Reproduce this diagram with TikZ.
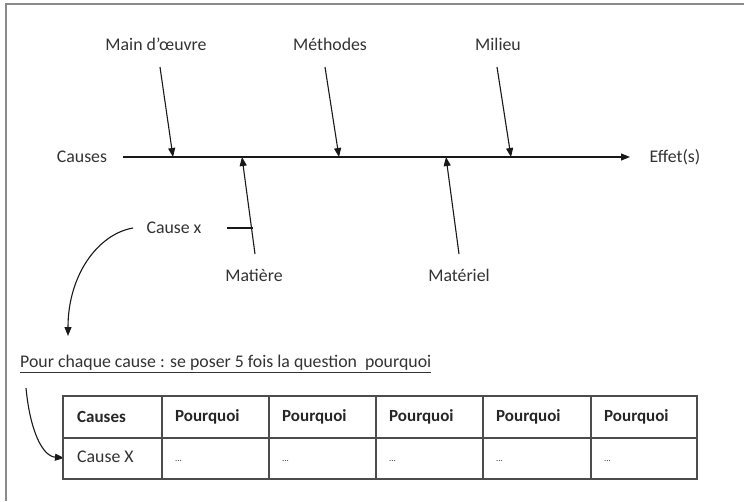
\documentclass[tikz,border=0pt]{standalone}
\usepackage{fontspec}
\setmainfont{Carlito}
\usetikzlibrary{arrows.meta}
\definecolor{txt}{HTML}{333333}
\definecolor{frame}{HTML}{8A8A8A}
\begin{document}
\begin{tikzpicture}[x=1pt,y=-1pt,
  lbl/.style={font=\fontsize{17.8}{20}\selectfont, text=txt, inner sep=0pt},
  hdr/.style={font=\fontsize{17}{20}\selectfont\bfseries, text=black!85, inner sep=0pt, anchor=west},
  cell/.style={font=\fontsize{17.8}{20}\selectfont, text=txt, inner sep=0pt, anchor=west},
  dots/.style={font=\fontsize{9}{10}\selectfont, text=txt, inner sep=0pt, anchor=west},
  arr/.style={line width=1.1pt, draw=black!90, -{Triangle[length=9pt,width=7pt]}},
  ln/.style={line width=1.1pt, draw=black!90},
  grid/.style={line width=1.3pt, draw=black!70},
]
\useasboundingbox (0,0) rectangle (744,501);
\fill[white] (0,0) rectangle (744,501);
% frame (top and left only)
\draw[frame, line width=2pt] (6,501) -- (6,4) -- (744,4);

% labels
\node[lbl] (mo) at (156,44) {Main d’œuvre};
\node[lbl] (me) at (330,44) {Méthodes};
\node[lbl] (mi) at (498,44) {Milieu};
\node[lbl] (ca) at (82,157) {Causes};
\node[lbl] (ef) at (675,157) {Effet(s)};
\node[lbl] (mat) at (254,275) {Matière};
\node[lbl] (matl) at (459,275) {Matériel};
\node[lbl] (cx) at (174,228) {Cause x};

% spine
\coordinate (sp0) at (123,157);
\coordinate (sp1) at (630,157);
\draw[arr] (sp0) -- (sp1);

% bones
\coordinate (mo1) at (160,67);  \coordinate (mo2) at (173,157);
\coordinate (me1) at (325,67);  \coordinate (me2) at (339,157);
\coordinate (mi1) at (497,67);  \coordinate (mi2) at (511,157);
\coordinate (ma1) at (255,254); \coordinate (ma2) at (242,157);
\coordinate (ml1) at (459,254); \coordinate (ml2) at (446,157);
\draw[arr] (mo1) -- (mo2);
\draw[arr] (me1) -- (me2);
\draw[arr] (mi1) -- (mi2);
\draw[arr] (ma1) -- (ma2);
\draw[arr] (ml1) -- (ml2);

% cause x tick
\coordinate (t1) at (227,228);
\coordinate (t2) at (253,228);
\draw[ln] (t1) -- (t2);

% curved arrow from cause x
\coordinate (c1) at (133,228);
\coordinate (c2) at (68,336);
\draw[arr] (c1) .. controls (98,234) and (68,275) .. (c2);

% sentence
\node[lbl, anchor=west] (pc) at (20,364) {\underline{Pour chaque cause : se poser 5 fois la question\ \ pourquoi}};

% curved arrow to table
\coordinate (d1) at (26,388);
\coordinate (d2) at (64,458);
\draw[arr] (d1) .. controls (30,430) and (42,456) .. (d2);

% table
\draw[grid] (63,396) rectangle (697,479);
\draw[grid] (63,438) -- (697,438);
\foreach \x in {162,269,376,483,591} \draw[grid] (\x,396) -- (\x,479);

\node[hdr] (h0) at (77,417) {Causes};
\node[hdr] (h1) at (175,417) {Pourquoi};
\node[hdr] (h2) at (282,417) {Pourquoi};
\node[hdr] (h3) at (389,417) {Pourquoi};
\node[hdr] (h4) at (496,417) {Pourquoi};
\node[hdr] (h5) at (604,417) {Pourquoi};

\node[cell] (r0) at (77,457) {Cause X};
\node[dots] (r1) at (175,461) {...};
\node[dots] (r2) at (282,461) {...};
\node[dots] (r3) at (389,461) {...};
\node[dots] (r4) at (496,461) {...};
\node[dots] (r5) at (604,461) {...};
\end{tikzpicture}
\end{document}
